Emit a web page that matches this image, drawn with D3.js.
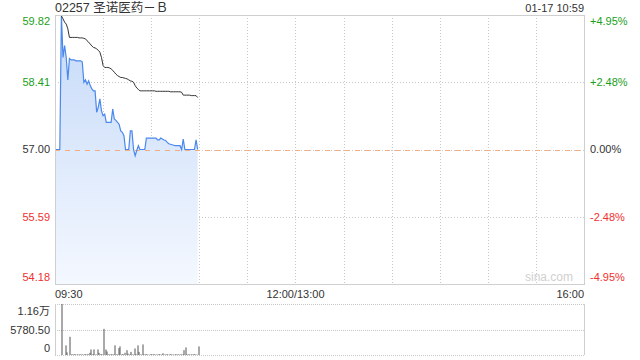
<!DOCTYPE html>
<html>
<head>
<meta charset="utf-8">
<script src="https://cdn.jsdelivr.net/npm/d3@7"></script>
<style>
  body { margin: 0; background: #fff; }
  svg text { font-family: Arial, "Liberation Sans", "Noto Sans CJK SC", sans-serif; }
</style>
</head>
<body>
<div id="canvas"></div>
<script>
// minute-by-minute data from 09:30 (minute 0) to 10:59 (minute 89)
const prices = [
  57.00, 57.00, 57.00, 57.00, 59.82, 58.93, 59.18, 58.93, 58.46, 58.91,
  58.88, 58.88, 58.88, 58.86, 58.86, 58.86, 58.86, 58.84, 58.41, 58.46,
  58.37, 58.44, 58.34, 58.27, 58.23, 58.23, 57.78, 57.89, 58.06, 57.81,
  57.71, 57.74, 57.57, 57.57, 57.57, 57.57, 57.85, 57.64, 57.61, 57.57,
  57.53, 57.39, 57.36, 57.29, 57.00, 57.00, 57.00, 57.39, 57.39, 57.00,
  56.87, 56.98, 57.08, 57.00, 57.00, 57.00, 57.00, 57.24, 57.24, 57.24,
  57.24, 57.24, 57.24, 57.24, 57.20, 57.20, 57.24, 57.22, 57.20, 57.19,
  57.15, 57.12, 57.11, 57.10, 57.09, 57.08, 57.08, 57.08, 57.08, 57.00,
  57.22, 57.00, 57.00, 57.00, 57.00, 57.00, 57.00, 57.00, 57.20, 57.00
];
const avgPrices = [
  null, null, null, null, 59.80, 59.74, 59.67, 59.63, 59.53, 59.35,
  59.35, 59.35, 59.35, 59.35, 59.35, 59.34, 59.34, 59.34, 59.33, 59.32,
  59.28, 59.25, 59.21, 59.17, 59.14, 59.13, 59.11, 59.08, 59.04, 58.93,
  58.76, 58.72, 58.72, 58.72, 58.71, 58.69, 58.66, 58.62, 58.58, 58.55,
  58.53, 58.51, 58.51, 58.50, 58.49, 58.48, 58.46, 58.44, 58.43, 58.41,
  58.34, 58.29, 58.26, 58.23, 58.23, 58.23, 58.23, 58.23, 58.23, 58.23,
  58.23, 58.23, 58.23, 58.22, 58.22, 58.22, 58.22, 58.22, 58.22, 58.22,
  58.22, 58.22, 58.21, 58.21, 58.21, 58.21, 58.21, 58.21, 58.21, 58.20,
  58.14, 58.14, 58.14, 58.14, 58.14, 58.13, 58.13, 58.13, 58.13, 58.09
];
const volumes = [
  0, 0, 0, 0, 11561, 0, 2180, 610, 0, 4130,
  200, 150, 200, 100, 150, 200, 150, 100, 200, 150,
  250, 500, 1250, 200, 1250, 150, 1250, 500, 200, 150,
  5930, 1250, 800, 200, 150, 200, 150, 2180, 200, 1560,
  1950, 150, 200, 500, 1100, 300, 150, 700, 150, 1480,
  200, 2180, 700, 150, 2400, 150, 200, 150, 100, 200,
  150, 200, 100, 150, 200, 150, 100, 400, 150, 200,
  100, 150, 200, 150, 100, 200, 150, 100, 200, 150,
  1100, 1720, 150, 200, 100, 150, 200, 150, 100, 1950
];

const priceTicks = [59.82, 58.41, 57.00, 55.59, 54.18];
const pctTicks = ["+4.95%", "+2.48%", "0.00%", "-2.48%", "-4.95%"];
const volTicks = ["1.16万", "5780.50", "0"];
const timeTicks = ["09:30", "12:00/13:00", "16:00"];
const prevClose = 57.00;
const maxVol = 11561;

const green = "#1aa01a", red = "#f03030", dark = "#333";

const svg = d3.select("#canvas")
    .append("svg")
    .attr("width", 640)
    .attr("height", 360);

const plotL = 55, plotR = 584, plotT = 15, plotB = 284;
const volT = 304, volB = 355;

// 330 trading minutes: 09:30-12:00 and 13:00-16:00
const x = d3.scaleLinear().domain([0, 330]).range([plotL, plotR]);
const y = d3.scaleLinear().domain([54.18, 59.82]).range([plotB, plotT]);
const yv = d3.scaleLinear().domain([0, maxVol]).range([volB, volT]);

// gradient for the area
const grad = svg.append("defs").append("linearGradient")
    .attr("id", "areaFill")
    .attr("gradientUnits", "userSpaceOnUse")
    .attr("x1", 0).attr("y1", plotT).attr("x2", 0).attr("y2", plotB);
grad.append("stop").attr("offset", "0%").attr("stop-color", "#c4d9f8");
grad.append("stop").attr("offset", "100%").attr("stop-color", "#f4f8ff");

// vertical grid, every 30 minutes
const vTicks = d3.range(30, 330, 30);
svg.append("g")
    .selectAll("line")
    .data(vTicks)
    .enter()
    .append("line")
    .attr("x1", d => Math.round(x(d)) + 0.5).attr("x2", d => Math.round(x(d)) + 0.5)
    .attr("y1", plotT).attr("y2", plotB)
    .attr("stroke", "#c8c8c8")
    .attr("stroke-dasharray", "1,2");

// horizontal grid
svg.append("g")
    .selectAll("line")
    .data(priceTicks.slice(1, 4))
    .enter()
    .append("line")
    .attr("x1", plotL).attr("x2", plotR)
    .attr("y1", d => Math.round(y(d)) + 0.5).attr("y2", d => Math.round(y(d)) + 0.5)
    .attr("stroke", "#c8c8c8")
    .attr("stroke-dasharray", "1,2");

// area + lines
const idx = d3.range(prices.length);
const area = d3.area()
    .x(i => x(i))
    .y0(plotB)
    .y1(i => y(prices[i]));
svg.append("path")
    .attr("d", area(idx))
    .attr("fill", "url(#areaFill)");

// previous close line
svg.append("line")
    .attr("x1", plotL).attr("x2", plotR)
    .attr("y1", Math.round(y(prevClose)) + 0.5).attr("y2", Math.round(y(prevClose)) + 0.5)
    .attr("stroke", "#f4ac80")
    .attr("stroke-dasharray", "5,5");

svg.append("path")
    .attr("d", d3.line().x(i => x(i)).y(i => y(prices[i]))(idx))
    .attr("fill", "none")
    .attr("stroke", "#4a88ec")
    .attr("stroke-width", 1.2);

svg.append("path")
    .attr("d", d3.line()
        .defined(i => avgPrices[i] != null)
        .x(i => x(i)).y(i => y(avgPrices[i]))(idx))
    .attr("fill", "none")
    .attr("stroke", "#333")
    .attr("stroke-width", 1);

// border
svg.append("rect")
    .attr("x", plotL + 0.5).attr("y", plotT + 0.5)
    .attr("width", plotR - plotL).attr("height", plotB - plotT)
    .attr("fill", "none")
    .attr("stroke", "#cfcfcf");

// watermark
svg.append("text")
    .attr("x", 573).attr("y", 281)
    .attr("text-anchor", "end")
    .attr("font-size", 12)
    .attr("fill", "#d0d0d0")
    .text("sina.com");

// price labels
const labelColor = [green, green, dark, red, red];
const labelShift = [6, 0, 0, 0, -7];
svg.append("g")
    .selectAll("text")
    .data(priceTicks)
    .enter()
    .append("text")
    .attr("x", 50)
    .attr("y", (d, i) => y(d) + labelShift[i])
    .attr("dy", "0.35em")
    .attr("text-anchor", "end")
    .attr("font-size", 11)
    .attr("fill", (d, i) => labelColor[i])
    .text(d => d.toFixed(2));

svg.append("g")
    .selectAll("text")
    .data(pctTicks)
    .enter()
    .append("text")
    .attr("x", 590)
    .attr("y", (d, i) => y(priceTicks[i]) + labelShift[i])
    .attr("dy", "0.35em")
    .attr("font-size", 11)
    .attr("fill", (d, i) => labelColor[i])
    .text(d => d);

// title + time
svg.append("text")
    .attr("x", 55).attr("y", 8).attr("dy", "0.35em")
    .attr("font-size", 12.5)
    .attr("fill", dark)
    .text("02257 圣诺医药－Ｂ");
svg.append("text")
    .attr("x", 584).attr("y", 8).attr("dy", "0.35em")
    .attr("text-anchor", "end")
    .attr("font-size", 11)
    .attr("fill", dark)
    .text("01-17 10:59");

// time axis labels
const timePos = [0, 150, 330];
const timeAnchor = ["start", "middle", "end"];
svg.append("g")
    .selectAll("text")
    .data(timeTicks)
    .enter()
    .append("text")
    .attr("x", (d, i) => x(timePos[i]))
    .attr("y", 294).attr("dy", "0.35em")
    .attr("text-anchor", (d, i) => timeAnchor[i])
    .attr("font-size", 11)
    .attr("fill", dark)
    .text(d => d);

// volume panel
const vLevels = [maxVol, maxVol / 2, 0];
svg.append("g")
    .selectAll("line")
    .data(vLevels)
    .enter()
    .append("line")
    .attr("x1", plotL).attr("x2", plotR)
    .attr("y1", d => Math.round(yv(d)) + 0.5).attr("y2", d => Math.round(yv(d)) + 0.5)
    .attr("stroke", "#c8c8c8")
    .attr("stroke-dasharray", "1,1");
[plotL, plotR].forEach(px => {
    svg.append("line")
        .attr("x1", px + 0.5).attr("x2", px + 0.5)
        .attr("y1", volT).attr("y2", volB)
        .attr("stroke", "#cfcfcf");
});

svg.append("g")
    .selectAll("rect")
    .data(idx.filter(i => volumes[i] > 0))
    .enter()
    .append("rect")
    .attr("x", i => Math.round(x(i)) + 0.5)
    .attr("y", i => yv(volumes[i]))
    .attr("width", 1)
    .attr("height", i => volB - yv(volumes[i]))
    .attr("fill", "#555");

const volLabelY = [311, 330, 348];
svg.append("g")
    .selectAll("text")
    .data(volTicks)
    .enter()
    .append("text")
    .attr("x", 50)
    .attr("y", (d, i) => volLabelY[i]).attr("dy", "0.35em")
    .attr("text-anchor", "end")
    .attr("font-size", 11)
    .attr("fill", dark)
    .text(d => d);
</script>
</body>
</html>
